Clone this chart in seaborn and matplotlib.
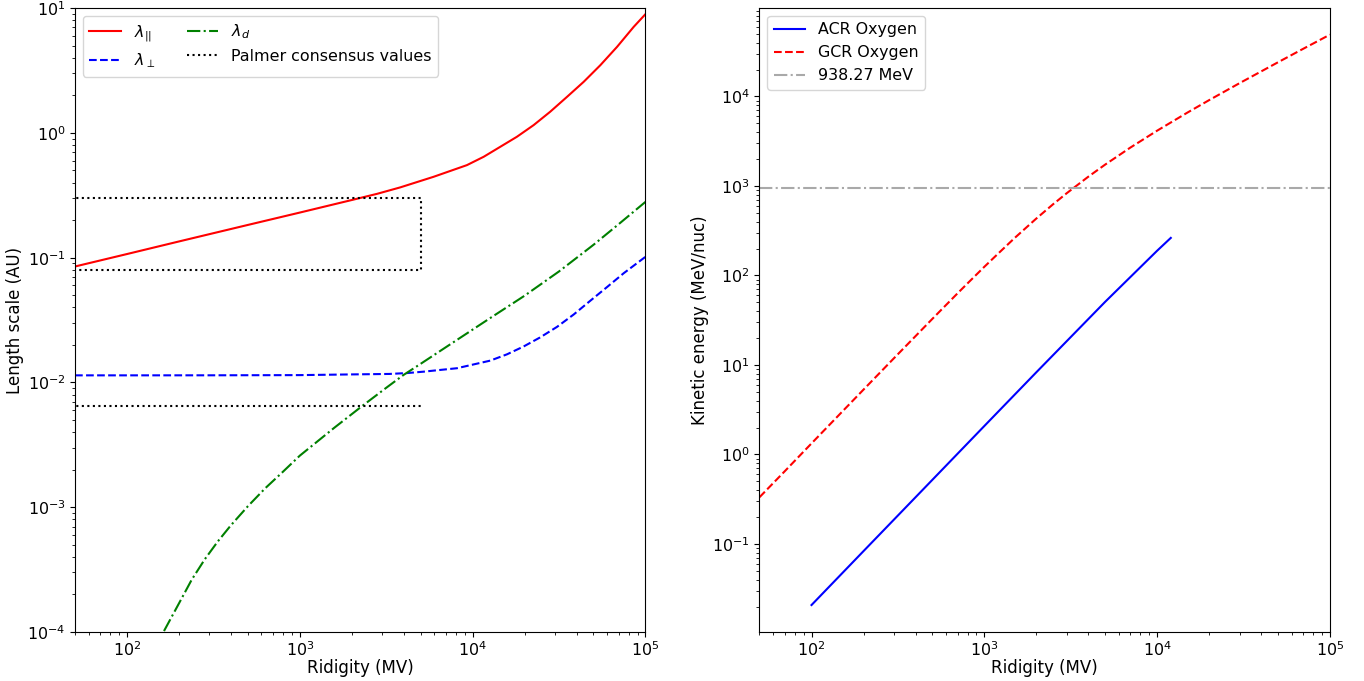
import numpy as np
import matplotlib
matplotlib.use('Agg')
import matplotlib.pyplot as plt
import seaborn as sns

# --- left panel: length scales vs rigidity ---
r_par = [50, 100, 200, 500, 1000, 2000, 2800, 3811, 5943, 9268, 11590, 14450, 18030, 22540, 28120,
         35160, 43950, 54830, 68550, 85510, 100000]
lam_par = [0.085, 0.107, 0.135, 0.183, 0.230, 0.290, 0.325, 0.366, 0.445, 0.552, 0.644, 0.774, 0.931,
           1.155, 1.479, 1.945, 2.57, 3.49, 4.90, 7.08, 8.95]

r_perp = [50, 100, 300, 1000, 2000, 3300, 4200, 5200, 6500, 8110, 12650, 15800, 19700, 24500, 30800,
          38500, 48000, 60000, 74800, 100000]
lam_perp = [0.0114, 0.0114, 0.01141, 0.01145, 0.0116, 0.0117, 0.0119, 0.0122, 0.0126, 0.0130, 0.01496,
            0.0168, 0.0194, 0.0229, 0.0279, 0.0351, 0.0452, 0.0582, 0.0750, 0.1016]

r_drift = [126, 158, 200, 237, 282, 335, 398, 501, 631, 794, 1000, 1585, 2291, 3162, 3981, 5012,
           7943, 12590, 19950, 31620, 50120, 70790, 100000]
lam_drift = [4.9e-5, 9.3e-5, 1.70e-4, 2.63e-4, 3.83e-4, 5.31e-4, 7.13e-4, 1.02e-3, 1.42e-3, 1.91e-3,
             2.59e-3, 4.34e-3, 6.46e-3, 9.06e-3, 0.01148, 0.01413, 0.0215, 0.0327, 0.0495, 0.0776,
             0.127, 0.188, 0.28]

palmer_box_r = [10, 5000, 5000, 10]
palmer_box_lam = [0.3, 0.3, 0.08, 0.08]
palmer_perp_r = [10, 5000]
palmer_perp_lam = [0.0065, 0.0065]

# --- right panel: kinetic energy per nucleon vs rigidity ---
r_acr = [100, 200, 500, 1000, 2000, 5000, 10000, 12000]
t_acr = [0.0208, 0.0833, 0.520, 2.08, 8.29, 50.7, 189, 263]

r_gcr = [50, 70, 100, 150, 200, 300, 500, 700, 800, 1000, 1200, 1500, 2000, 2500, 3000, 4000, 5000,
         7000, 10000, 15000, 20000, 30000, 50000, 70000, 100000]
t_gcr = [0.333, 0.65, 1.33, 2.99, 5.31, 11.9, 32.7, 63.2, 81.7, 125, 175, 263, 433, 625, 831, 1271,
         1732, 2685, 4149, 6620, 9106, 14091, 24079, 34074, 49062]

energy_ticks = [1e-1, 1e0, 1e1, 1e2, 1e3, 1e4]
proton_mass = 938.27

plt.rcParams['font.size'] = 11.4
plt.rcParams['axes.labelsize'] = 12
plt.rcParams['xtick.major.pad'] = 2.3
plt.rcParams['axes.labelpad'] = 2.5

fig, (ax1, ax2) = plt.subplots(1, 2, figsize=(13.64, 6.81), dpi=100)
fig.subplots_adjust(left=0.055, right=0.975, bottom=0.072, top=0.988, wspace=0.2)

# left panel
sns.lineplot(x=r_par, y=lam_par, color='r', linestyle='-', label=r'$\lambda_{||}$', ax=ax1)
sns.lineplot(x=r_perp, y=lam_perp, color='b', linestyle='--', label=r'$\lambda_\perp$', ax=ax1)
sns.lineplot(x=r_drift, y=lam_drift, color='g', linestyle='-.', label=r'$\lambda_d$', ax=ax1)
sns.lineplot(x=palmer_box_r, y=palmer_box_lam, color='k', linestyle=':', sort=False, estimator=None,
             label='Palmer consensus values', ax=ax1)
sns.lineplot(x=palmer_perp_r, y=palmer_perp_lam, color='k', linestyle=':', sort=False, estimator=None,
             ax=ax1)
ax1.set_xscale('log')
ax1.set_yscale('log')
ax1.set_xlim(50, 1e5)
ax1.set_ylim(1e-4, 1e1)
ax1.set_xlabel('Ridigity (MV)', labelpad=0)
ax1.set_ylabel('Length scale (AU)')
ax1.legend(loc='upper left', ncol=2)

# right panel
sns.lineplot(x=r_acr, y=t_acr, color='b', linestyle='-', label='ACR Oxygen', ax=ax2)
sns.lineplot(x=r_gcr, y=t_gcr, color='r', linestyle='--', label='GCR Oxygen', ax=ax2)
ax2.set_xscale('log')
ax2.set_yscale('log')
ax2.axhline(proton_mass, color='darkgray', linestyle='-.', label='938.27 MeV')
ax2.set_xlim(50, 1e5)
ax2.set_yticks(energy_ticks)
ax2.set_ylim(1.04e-2, 9.7e4)
ax2.set_xlabel('Ridigity (MV)', labelpad=0)
ax2.set_ylabel('Kinetic energy (MeV/nuc)')
ax2.legend(loc='upper left')

plt.savefig('out.png')
